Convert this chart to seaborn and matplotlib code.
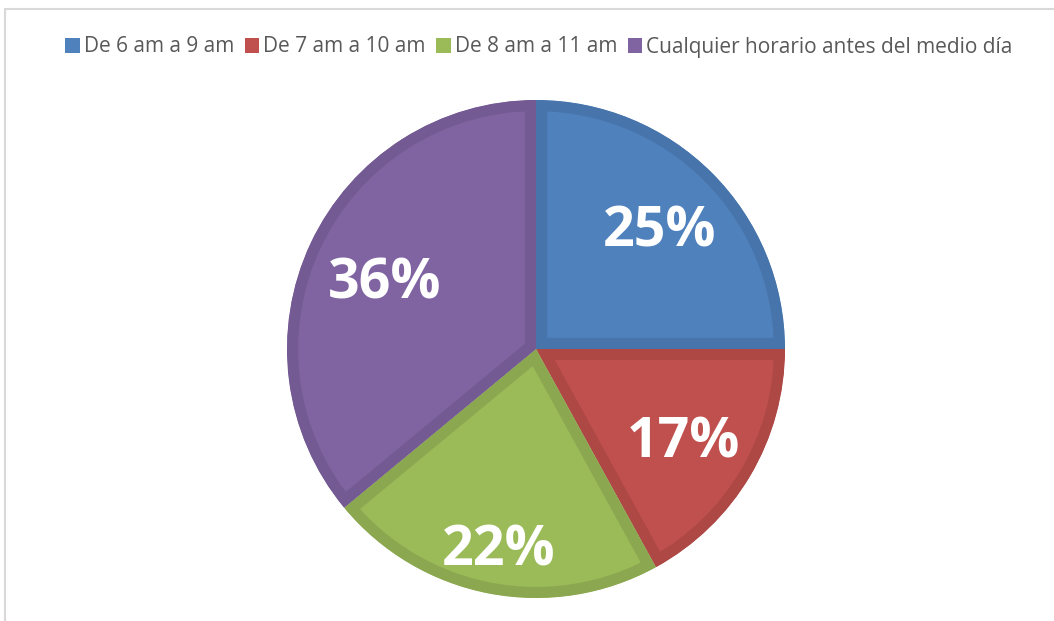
import matplotlib
matplotlib.use('Agg')
import matplotlib.pyplot as plt
import matplotlib.patches as mpatches
import seaborn as sns
import numpy as np

sns.set_style('white')
plt.rcParams['font.family'] = ['Open Sans', 'DejaVu Sans']

labels = ['De 6 am a 9 am', 'De 7 am a 10 am', 'De 8 am a 11 am',
          'Cualquier horario antes del medio día']
values = [25, 17, 22, 36]
colors = ['#4F81BD', '#C0504D', '#9BBB59', '#8064A2']
edges = ['#4774AA', '#AD4845', '#8BA850', '#735A92']
label_dist = [0.70, 0.69, 0.80, 0.67]

W, H = 1054, 621
fig = plt.figure(figsize=(W / 100, H / 100), dpi=100)

# chart frame (runs off the right and bottom edges)
fig.patches.append(mpatches.Rectangle((5 / W, -0.1), 1.2, 1.1 - 9 / H,
                                      transform=fig.transFigure, fill=False,
                                      edgecolor='#D9D9D9', linewidth=1.5))

ax = fig.add_axes([287 / W, 23 / H, 498 / W, 498 / H])
wedges, _ = ax.pie(values, colors=colors, startangle=90, counterclock=False,
                   radius=1.0)
# darker border drawn only inside each slice
for w, ec in zip(wedges, edges):
    w.set_edgecolor(ec)
    w.set_linewidth(16)
    w.set_clip_on(True)
    w.set_clip_path(w)

for w, v, d in zip(wedges, values, label_dist):
    ang = np.deg2rad((w.theta1 + w.theta2) / 2)
    ax.text(d * np.cos(ang), d * np.sin(ang), f'{v}%', ha='center',
            va='center_baseline', color='white', fontsize=40, fontweight='bold')

ax.set_xlim(-1, 1)
ax.set_ylim(-1, 1)
ax.set_aspect('equal')
ax.axis('off')

handles = [mpatches.Patch(facecolor=c, edgecolor='none') for c in colors]
fig.legend(handles, labels, loc='center', bbox_to_anchor=(539 / W, 1 - 47 / H),
           ncol=4, frameon=False, fontsize=15, handlelength=0.7, handleheight=0.7,
           handletextpad=0.2, columnspacing=0.5, labelcolor='#595959',
           borderaxespad=0)

fig.savefig('out.png', dpi=100)
